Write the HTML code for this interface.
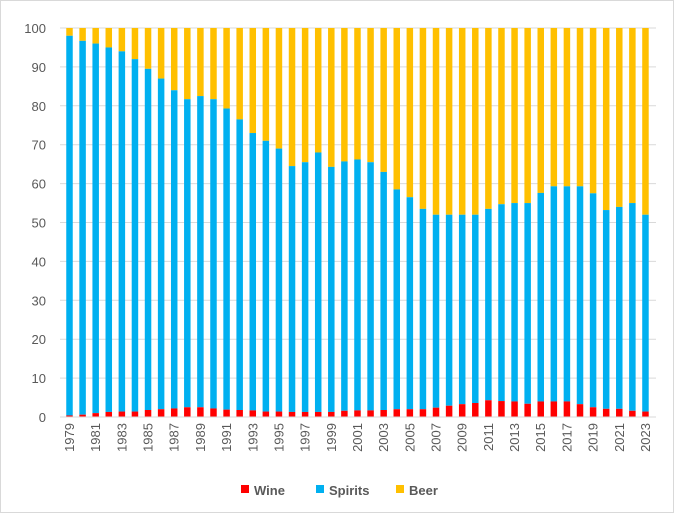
<!DOCTYPE html>
<html><head><meta charset="utf-8"><style>
html,body{margin:0;padding:0;background:#fff}
svg{display:block;font-family:"Liberation Sans",sans-serif}
</style></head><body>
<svg id="c" width="674" height="513" viewBox="0 0 674 513" xmlns="http://www.w3.org/2000/svg">
<rect x="0.5" y="0.5" width="673" height="512" fill="#fff" stroke="#d9d9d9"/>
</svg>
<script>
var s=document.getElementById('c'),ns='http://www.w3.org/2000/svg';
function el(t,a,txt){var e=document.createElementNS(ns,t);for(var k in a)e.setAttribute(k,a[k]);if(txt!=null)e.textContent=txt;s.appendChild(e);return e;}
var y0=417,pu=3.89;
for(var v=0;v<=100;v+=10){var y=y0-v*pu;
 el('line',{x1:60,x2:656,y1:y,y2:y,stroke:'#d9d9d9','stroke-width':1});
 el('text',{x:46,y:y+5,'text-anchor':'end','font-size':13,fill:'#595959'},v);}
var sp=[98,96.7,96,95,94,92,89.5,87,84,81.7,82.5,81.7,79.3,76.5,73,71,69,64.5,65.5,68,64.3,65.7,66.2,65.5,63,58.5,56.5,53.5,52,52,52,52,53.5,54.7,55,55,57.6,59.3,59.3,59.3,57.5,53.2,54,55,52];
var wn=[0.4,0.6,1,1.3,1.4,1.4,1.8,2,2.2,2.5,2.5,2.2,1.9,1.8,1.7,1.4,1.4,1.3,1.3,1.3,1.3,1.6,1.7,1.7,1.8,2,2,2,2.4,2.9,3.3,3.6,4.3,4.1,4.0,3.4,4.0,4.0,4.0,3.3,2.5,2.1,2.1,1.6,1.4];
var bw=6.5;
for(var i=0;i<45;i++){var cx=69.5+i*13.09,x=cx-bw/2;
 el('rect',{x:x,y:28,width:bw,height:(100-sp[i])*pu,fill:'#ffc000'});
 el('rect',{x:x,y:y0-sp[i]*pu,width:bw,height:(sp[i]-wn[i])*pu,fill:'#00b0f0'});
 el('rect',{x:x,y:y0-wn[i]*pu,width:bw,height:wn[i]*pu,fill:'#ff0000'});
 if(i%2==0){el('text',{x:0,y:0,transform:'translate('+(cx+4.5)+',423) rotate(-90)','text-anchor':'end','font-size':13,fill:'#595959'},1979+i);}
}
el('line',{x1:60,x2:656,y1:y0,y2:y0,stroke:'#d9d9d9'});
var lg=[['Wine','#ff0000',241],['Spirits','#00b0f0',316],['Beer','#ffc000',396]];
lg.forEach(function(l){el('rect',{x:l[2],y:485,width:8,height:8,fill:l[1]});
 el('text',{x:l[2]+13,y:495,'font-size':13,fill:'#595959','font-weight':'bold'},l[0]);});
</script>
</body></html>
